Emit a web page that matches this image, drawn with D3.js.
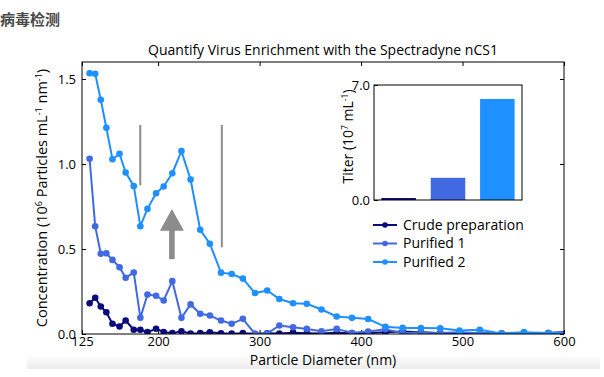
<!DOCTYPE html>
<html>
<head>
<meta charset="utf-8">
<style>
  body { margin: 0; background: #fff; font-family: "Open Sans", sans-serif; }
  svg { display: block; }
</style>
</head>
<body>
<svg id="chart" width="604" height="377"></svg>
<script src="https://cdn.jsdelivr.net/npm/d3@7"></script>
<script>
// particle diameter bins (nm), shared by all three series
var diameters = [132.5, 138, 143.5, 149, 155, 162, 168, 176, 182.5, 189.5, 198, 205.5, 214, 223, 232,
  241.5, 251, 262, 272.5, 283.5, 295.5, 307.5, 319.5, 333, 346.5, 361, 376, 391, 407, 424, 441,
  459, 478, 497, 517, 538.5, 560.5, 584.5, 609];

var crude = [0.181, 0.213, 0.162, 0.128, 0.06, 0.044, 0.079, 0.025, 0.025, 0.011, 0.031, 0.012, 0.005,
  0.016, 0.003, 0.005, 0.01, 0.004, 0.002, 0.005, 0.001, 0.004, 0.003, 0.008, 0.005, 0.003, 0.008,
  0.004, 0.006, 0.01, 0.015, 0.01, 0.005, 0.006, 0.004, 0.003, 0.005, 0.006, 0.012];

var purified1 = [1.031, 0.634, 0.472, 0.475, 0.436, 0.393, 0.331, 0.362, 0.095, 0.232, 0.225, 0.197,
  0.311, 0.095, 0.174, 0.119, 0.109, 0.079, 0.06, 0.089, 0.0, 0.003, 0.05, 0.04, 0.03, 0.016, 0.03,
  0.007, 0.015, 0.028, 0.005, 0.01, 0.006, 0.01, 0.004, 0.003, 0.006, 0.006, 0.012];

var purified2 = [1.534, 1.531, 1.378, 1.213, 1.028, 1.06, 0.95, 0.871, 0.634, 0.736, 0.828, 0.868,
  0.946, 1.076, 0.909, 0.613, 0.531, 0.361, 0.353, 0.326, 0.241, 0.256, 0.206, 0.181, 0.178, 0.144,
  0.103, 0.095, 0.088, 0.042, 0.036, 0.035, 0.034, 0.021, 0.025, 0.003, 0.011, 0.006, 0.006];

var seriesNames = ["Crude preparation", "Purified 1", "Purified 2"];
var seriesColors = ["#0b0b7e", "#4169e1", "#1e90ff"];
var titers = [0.12, 1.35, 6.15];

var xTicks = [125, 200, 300, 400, 500, 600];
var yTicks = [0, 0.5, 1.0, 1.5];

var margin = {top: 62, right: 40, bottom: 43, left: 82},
    width = 604 - margin.left - margin.right,
    height = 377 - margin.top - margin.bottom;

var svg = d3.select("#chart");

// faint grey band at the bottom of the screenshot
var defs = svg.append("defs");
var grad = defs.append("linearGradient").attr("id", "fade")
  .attr("x1", 0).attr("y1", 0).attr("x2", 0).attr("y2", 1);
grad.append("stop").attr("offset", "0%").attr("stop-color", "#fff");
grad.append("stop").attr("offset", "100%").attr("stop-color", "#ececec");
svg.append("rect").attr("x", 27).attr("y", 354).attr("width", 573).attr("height", 15)
  .attr("fill", "url(#fade)");

defs.append("clipPath").attr("id", "plotclip")
  .append("rect").attr("width", width).attr("height", height);

// page heading
svg.append("text")
  .attr("x", 0).attr("y", 25)
  .style("font-family", "'Noto Sans CJK SC', sans-serif")
  .style("font-size", "15px").style("font-weight", "bold")
  .attr("fill", "#4a4a4a")
  .text("病毒检测");

var g = svg.append("g")
  .attr("transform", "translate(" + margin.left + "," + margin.top + ")");

var x = d3.scaleLinear().domain([125, 600]).range([0, width]);
var y = d3.scaleLinear().domain([0, 1.6]).range([height, 0]);

function styleAxis(sel) {
  sel.select(".domain").remove();
  sel.selectAll("line").attr("stroke", "#000");
  sel.selectAll("text").style("font-family", "'Open Sans', sans-serif")
    .style("font-size", "13px").attr("fill", "#000");
}

g.append("g").attr("transform", "translate(0," + height + ")")
  .call(d3.axisBottom(x).tickValues(xTicks).tickSize(-4).tickPadding(3))
  .call(styleAxis);
g.append("g")
  .call(d3.axisTop(x).tickValues(xTicks).tickSize(-4).tickFormat(""))
  .call(styleAxis);
g.append("g")
  .call(d3.axisLeft(y).tickValues(yTicks).tickSize(-4).tickPadding(6).tickFormat(d3.format(".1f")))
  .call(styleAxis);
g.append("g").attr("transform", "translate(" + width + ",0)")
  .call(d3.axisRight(y).tickValues(yTicks).tickSize(-4).tickFormat(""))
  .call(styleAxis);

// annotation: grey window lines and arrow
var annoColor = "#8c8c8c";
g.append("line")
  .attr("x1", x(182.4)).attr("x2", x(182.4)).attr("y1", y(1.23)).attr("y2", y(0.875))
  .attr("stroke", annoColor).attr("stroke-width", 2);
g.append("line")
  .attr("x1", x(262.8)).attr("x2", x(262.8)).attr("y1", y(1.23)).attr("y2", y(0.51))
  .attr("stroke", annoColor).attr("stroke-width", 2);

var ax = x(213.6), aTail = y(0.44), aTip = y(0.736), aBase = y(0.607);
g.append("rect")
  .attr("x", ax - 2.8).attr("y", aBase - 1).attr("width", 5.6).attr("height", aTail - aBase + 1)
  .attr("fill", annoColor);
g.append("path")
  .attr("d", "M" + ax + "," + aTip + "L" + (ax + 12) + "," + aBase + "L" + (ax - 12) + "," + aBase + "Z")
  .attr("fill", annoColor);

// series lines
var allSeries = [crude, purified1, purified2];
var line = d3.line()
  .x(function(d) { return x(d[0]); })
  .y(function(d) { return y(d[1]); });

var plot = g.append("g").attr("clip-path", "url(#plotclip)");
allSeries.forEach(function(vals, i) {
  var pts = diameters.map(function(dm, j) { return [dm, vals[j]]; });
  plot.append("path").datum(pts)
    .attr("d", line)
    .attr("fill", "none")
    .attr("stroke", seriesColors[i])
    .attr("stroke-width", 2);
  plot.selectAll(".dot" + i).data(pts).enter()
    .append("circle")
    .attr("cx", function(d) { return x(d[0]); })
    .attr("cy", function(d) { return y(d[1]); })
    .attr("r", 3.3)
    .attr("fill", seriesColors[i]);
});

// frame
g.append("rect").attr("width", width).attr("height", height)
  .attr("fill", "none").attr("stroke", "#000").attr("stroke-width", 1);

// titles
g.append("text")
  .attr("x", width / 2).attr("y", -7)
  .attr("text-anchor", "middle")
  .style("font-size", "14px")
  .text("Quantify Virus Enrichment with the Spectradyne nCS1");

g.append("text")
  .attr("x", width / 2).attr("y", height + 31)
  .attr("text-anchor", "middle")
  .style("font-size", "14px")
  .text("Particle Diameter (nm)");

var yl = g.append("text")
  .attr("transform", "translate(-35," + (height / 2) + ") rotate(-90)")
  .attr("text-anchor", "middle")
  .style("font-size", "14.5px");
yl.append("tspan").text("Concentration (10");
yl.append("tspan").attr("dy", -5).style("font-size", "9px").text("6");
yl.append("tspan").attr("dy", 5).text(" Particles mL");
yl.append("tspan").attr("dy", -5).style("font-size", "9px").text("-1");
yl.append("tspan").attr("dy", 5).text(" nm");
yl.append("tspan").attr("dy", -5).style("font-size", "9px").text("-1");
yl.append("tspan").attr("dy", 5).text(")");

// legend
var legend = g.append("g").attr("transform", "translate(" + (373 - margin.left) + "," + (225 - margin.top) + ")");
seriesNames.forEach(function(name, i) {
  var row = legend.append("g").attr("transform", "translate(0," + (i * 18.5) + ")");
  row.append("line").attr("x1", 0).attr("x2", 24).attr("stroke", seriesColors[i]).attr("stroke-width", 2);
  row.append("circle").attr("cx", 12).attr("r", 2.8).attr("fill", seriesColors[i]);
  row.append("text").attr("x", 30).attr("dy", "0.35em")
    .style("font-size", "14px").text(name);
});

// inset bar chart of titers
var inset = {left: 374, top: 85, width: 148, height: 115};
var ig = svg.append("g").attr("transform", "translate(" + inset.left + "," + inset.top + ")");
ig.append("rect").attr("width", inset.width).attr("height", inset.height).attr("fill", "#fff");

var xb = d3.scaleBand().domain(seriesNames).range([0, inset.width]).paddingInner(0.3).paddingOuter(0.15);
var yb = d3.scaleLinear().domain([0, 7]).range([inset.height, 0]);

ig.selectAll(".bar").data(titers).enter()
  .append("rect")
  .attr("x", function(d, i) { return xb(seriesNames[i]); })
  .attr("y", function(d) { return yb(d); })
  .attr("width", xb.bandwidth())
  .attr("height", function(d) { return inset.height - yb(d); })
  .attr("fill", function(d, i) { return seriesColors[i]; });

ig.append("g")
  .call(d3.axisLeft(yb).tickValues([0, 7]).tickSize(-4).tickPadding(4).tickFormat(d3.format(".1f")))
  .call(styleAxis);

ig.append("rect").attr("width", inset.width).attr("height", inset.height)
  .attr("fill", "none").attr("stroke", "#000").attr("stroke-width", 1);

var il = ig.append("text")
  .attr("transform", "translate(-21," + (inset.height / 2 - 6) + ") rotate(-90)")
  .attr("text-anchor", "middle")
  .style("font-size", "14px");
il.append("tspan").text("Titer (10");
il.append("tspan").attr("dy", -5).style("font-size", "8.5px").text("7");
il.append("tspan").attr("dy", 5).text(" mL");
il.append("tspan").attr("dy", -5).style("font-size", "8.5px").text("-1");
il.append("tspan").attr("dy", 5).text(")");
</script>
</body>
</html>
